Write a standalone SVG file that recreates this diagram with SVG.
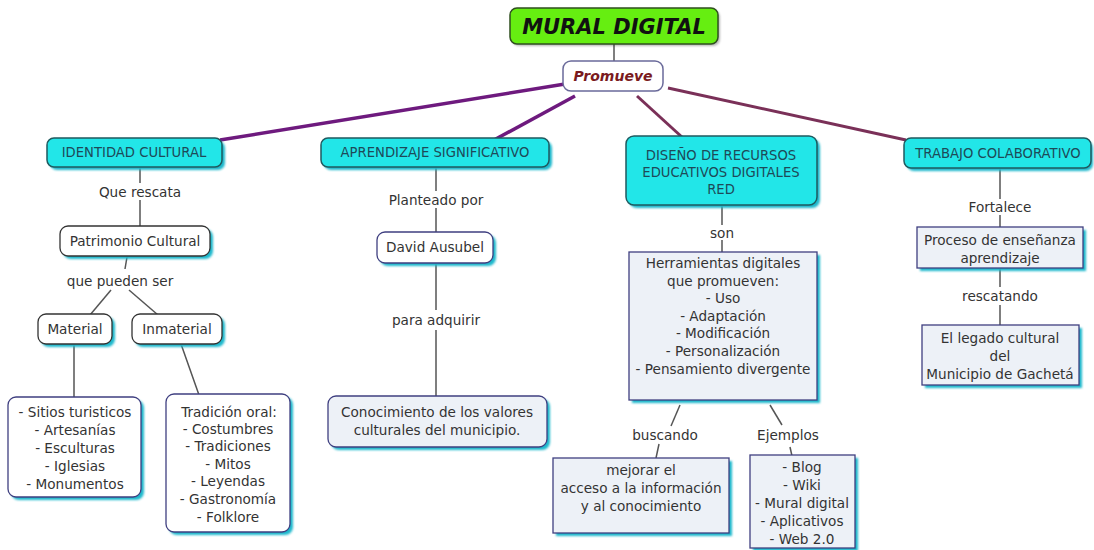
<svg xmlns="http://www.w3.org/2000/svg" width="1094" height="550" viewBox="0 0 1094 550">
<defs>
<filter id="sh" x="-10%" y="-10%" width="130%" height="140%">
<feGaussianBlur stdDeviation="1.2"/>
</filter>
<style>
text{font-family:"DejaVu Sans",Verdana,sans-serif;font-size:13.6px;fill:#333;text-anchor:middle}
.cy{fill:#22e6e8;stroke:#1f5a5f;stroke-width:1.5}
.cyt{fill:#1e4a58;font-size:13.2px}
.wh{fill:#fff;stroke:#333;stroke-width:1.3}
.lb{fill:#edf1f7;stroke:#3f3f80;stroke-width:1.3}
.shd{fill:#1fb8cc;filter:url(#sh)}
.ln{stroke:#555;stroke-width:1.5;fill:none}
.pp{stroke:#6e1a7e;stroke-width:3.5;fill:none}
.mr{stroke:#7a3058;stroke-width:3;fill:none}
</style>
</defs>
<rect width="1094" height="550" fill="#fff"/>
<g id="connectors">
<line class="ln" x1="614" y1="44" x2="614" y2="62"/>
<line class="pp" x1="565" y1="84" x2="220" y2="140"/>
<line class="pp" x1="575" y1="96" x2="494" y2="140"/>
<line class="mr" x1="637" y1="96" x2="683" y2="138"/>
<line class="mr" x1="668" y1="88" x2="906" y2="140"/>
<line class="ln" x1="140" y1="167" x2="140" y2="183"/>
<line class="ln" x1="140" y1="200" x2="140" y2="227"/>
<line class="ln" x1="127" y1="257" x2="125" y2="269"/>
<line class="ln" x1="111" y1="290" x2="90" y2="315"/>
<line class="ln" x1="129" y1="290" x2="158" y2="315"/>
<line class="ln" x1="74" y1="344" x2="74" y2="397"/>
<line class="ln" x1="181" y1="344" x2="199" y2="395"/>
<line class="ln" x1="436" y1="167" x2="436" y2="191"/>
<line class="ln" x1="436" y1="208" x2="436" y2="232"/>
<line class="ln" x1="436" y1="263" x2="436" y2="310"/>
<line class="ln" x1="436" y1="330" x2="436" y2="396"/>
<line class="ln" x1="722" y1="205" x2="722" y2="225"/>
<line class="ln" x1="722" y1="240" x2="722" y2="252"/>
<line class="ln" x1="680" y1="405" x2="671" y2="426"/>
<line class="ln" x1="659" y1="444" x2="656" y2="458"/>
<line class="ln" x1="770" y1="405" x2="782" y2="425"/>
<line class="ln" x1="790" y1="447" x2="792" y2="456"/>
<line class="ln" x1="1000" y1="168" x2="1000" y2="199"/>
<line class="ln" x1="1000" y1="215" x2="1000" y2="227"/>
<line class="ln" x1="1000" y1="268" x2="1000" y2="287"/>
<line class="ln" x1="1000" y1="305" x2="1000" y2="325"/>
</g>
<g id="n-mural">
<rect x="512" y="10" width="208" height="36" rx="7" fill="#333" opacity="0.35" filter="url(#sh)"/>
<rect x="510" y="8" width="208" height="36" rx="7" fill="#66ee11" stroke="#2f4f1f" stroke-width="1.5"/>
<text x="614" y="34" style="font-size:21px;font-weight:bold;font-style:italic;fill:#111">MURAL DIGITAL</text>
</g>
<g id="n-promueve">
<rect x="563" y="61" width="100" height="30" rx="8" fill="#fff" stroke="#6a6a9a" stroke-width="1.5"/>
<text x="613" y="81" style="font-size:14px;font-weight:bold;font-style:italic;fill:#7a1a20">Promueve</text>
</g>
<g id="n-identidad">
<rect class="shd" x="50" y="141" width="175" height="29" rx="7"/>
<rect class="cy" x="47" y="138" width="175" height="29" rx="7"/>
<text class="cyt" x="134" y="157">IDENTIDAD CULTURAL</text>
</g>
<g id="n-aprendizaje">
<rect class="shd" x="324" y="141" width="228" height="29" rx="7"/>
<rect class="cy" x="321" y="138" width="228" height="29" rx="7"/>
<text class="cyt" x="435" y="157">APRENDIZAJE SIGNIFICATIVO</text>
</g>
<g id="n-diseno">
<rect class="shd" x="629" y="139" width="191" height="69" rx="8"/>
<rect class="cy" x="626" y="136" width="191" height="69" rx="8"/>
<text class="cyt" x="721" y="160">DISEÑO DE RECURSOS</text>
<text class="cyt" x="721" y="177">EDUCATIVOS DIGITALES</text>
<text class="cyt" x="721" y="194">RED</text>
</g>
<g id="n-trabajo">
<rect class="shd" x="907" y="141" width="186" height="30" rx="7"/>
<rect class="cy" x="904" y="138" width="187" height="30" rx="7"/>
<text class="cyt" x="998" y="158">TRABAJO COLABORATIVO</text>
</g>
<g id="labels">
<text x="140" y="197">Que rescata</text>
<text x="120" y="286">que pueden ser</text>
<text x="436" y="205">Planteado por</text>
<text x="436" y="325">para adquirir</text>
<text x="722" y="238">son</text>
<text x="665" y="440">buscando</text>
<text x="788" y="440">Ejemplos</text>
<text x="1000" y="212">Fortalece</text>
<text x="1000" y="301">rescatando</text>
</g>
<g id="n-patrimonio">
<rect class="shd" x="63" y="229" width="150" height="30" rx="8"/>
<rect class="wh" x="60" y="226" width="150" height="30" rx="8"/>
<text x="135" y="246">Patrimonio Cultural</text>
</g>
<g id="n-material">
<rect class="shd" x="41" y="317" width="74" height="30" rx="8"/>
<rect class="wh" x="38" y="314" width="74" height="30" rx="8"/>
<text x="75" y="334">Material</text>
</g>
<g id="n-inmaterial">
<rect class="shd" x="135" y="317" width="90" height="30" rx="8"/>
<rect class="wh" x="132" y="314" width="90" height="30" rx="8"/>
<text x="177" y="334">Inmaterial</text>
</g>
<g id="n-sitios">
<rect class="shd" x="11" y="400" width="133" height="100" rx="8"/>
<rect x="8" y="397" width="133" height="100" rx="8" fill="#fff" stroke="#3f3f80" stroke-width="1.3"/>
<text x="75" y="417">- Sitios turisticos</text>
<text x="75" y="435">- Artesanías</text>
<text x="75" y="453">- Esculturas</text>
<text x="75" y="471">- Iglesias</text>
<text x="75" y="489">- Monumentos</text>
</g>
<g id="n-tradicion">
<rect class="shd" x="169" y="397" width="124" height="138" rx="8"/>
<rect x="166" y="394" width="124" height="138" rx="8" fill="#fff" stroke="#3f3f80" stroke-width="1.3"/>
<text x="229" y="417">Tradición oral:</text>
<text x="228" y="434">- Costumbres</text>
<text x="228" y="451">- Tradiciones</text>
<text x="228" y="469">- Mitos</text>
<text x="228" y="486">- Leyendas</text>
<text x="228" y="504">- Gastronomía</text>
<text x="228" y="522">- Folklore</text>
</g>
<g id="n-david">
<rect class="shd" x="380" y="235" width="116" height="31" rx="8"/>
<rect x="377" y="232" width="116" height="31" rx="8" fill="#fff" stroke="#3f3f80" stroke-width="1.3"/>
<text x="435" y="252">David Ausubel</text>
</g>
<g id="n-conocimiento">
<rect class="shd" x="331" y="399" width="219" height="51" rx="8"/>
<rect class="lb" x="328" y="396" width="219" height="51" rx="8"/>
<text x="437" y="417">Conocimiento de los valores</text>
<text x="437" y="435">culturales del municipio.</text>
</g>
<g id="n-herramientas">
<rect class="shd" x="632" y="255" width="188" height="148"/>
<rect class="lb" x="629" y="252" width="188" height="148"/>
<text x="723" y="268">Herramientas digitales</text>
<text x="723" y="286">que promueven:</text>
<text x="723" y="303">- Uso</text>
<text x="723" y="321">- Adaptación</text>
<text x="723" y="338">- Modificación</text>
<text x="723" y="356">- Personalización</text>
<text x="723" y="374">- Pensamiento divergente</text>
</g>
<g id="n-mejorar">
<rect class="shd" x="556" y="461" width="176" height="75"/>
<rect class="lb" x="553" y="458" width="176" height="75"/>
<text x="641" y="475">mejorar el</text>
<text x="641" y="493">acceso a la información</text>
<text x="641" y="511">y al conocimiento</text>
</g>
<g id="n-ejemplos">
<rect class="shd" x="753" y="458" width="105" height="93"/>
<rect class="lb" x="750" y="455" width="105" height="93"/>
<text x="802" y="472">- Blog</text>
<text x="802" y="490">- Wiki</text>
<text x="802" y="508">- Mural digital</text>
<text x="802" y="526">- Aplicativos</text>
<text x="802" y="544">- Web 2.0</text>
</g>
<g id="n-proceso">
<rect class="shd" x="920" y="230" width="166" height="41"/>
<rect class="lb" x="917" y="227" width="166" height="41"/>
<text x="1000" y="245">Proceso de enseñanza</text>
<text x="1000" y="263">aprendizaje</text>
</g>
<g id="n-legado">
<rect class="shd" x="925" y="328" width="157" height="60"/>
<rect class="lb" x="922" y="325" width="157" height="60"/>
<text x="1000" y="343">El legado cultural</text>
<text x="1000" y="361">del</text>
<text x="1000" y="379">Municipio de Gachetá</text>
</g>
</svg>
